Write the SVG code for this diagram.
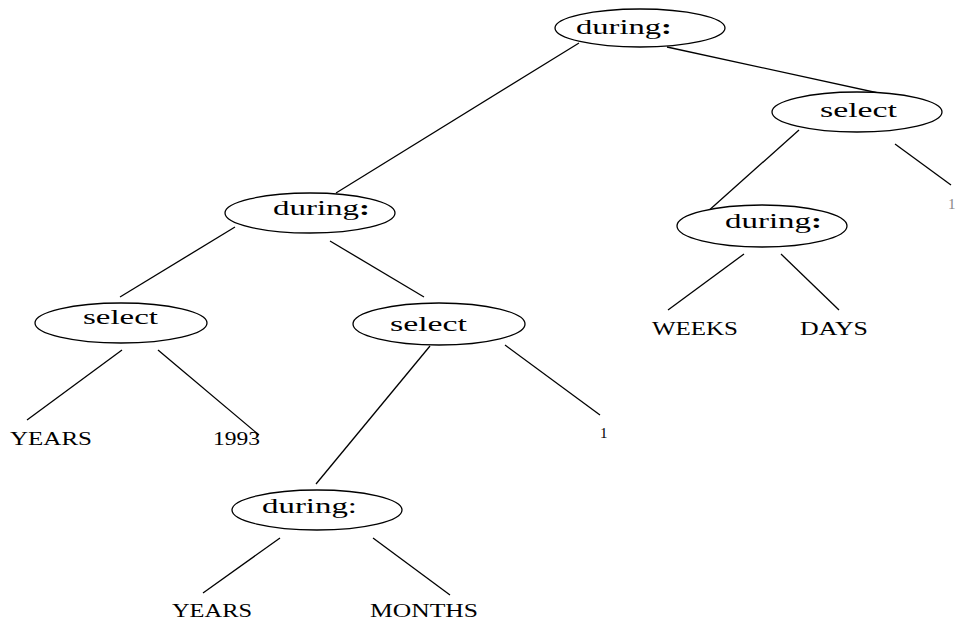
<svg xmlns="http://www.w3.org/2000/svg" width="957" height="628" viewBox="0 0 957 628">
  <style>
    .node ellipse { fill: #ffffff; stroke: #000000; stroke-width: 1.3; }
    .lbl { font-family: "Liberation Serif", "Times New Roman", serif; font-size: 21px; fill: #000000; }
    .leaf { font-family: "Liberation Serif", "Times New Roman", serif; font-size: 19px; fill: #000000; }
    .small { font-family: "Liberation Serif", "Times New Roman", serif; font-size: 15px; fill: #000000; }
    .edges line { stroke: #000000; stroke-width: 1.3; }
    .b { font-weight: bold; }
  </style>
  <rect width="957" height="628" fill="#ffffff"/>

  <!-- tree edges -->
  <g id="edges" class="edges">
    <line x1="579" y1="43" x2="336" y2="193"/>
    <line x1="667" y1="47" x2="915" y2="101"/>
    <line x1="799" y1="130" x2="706" y2="213"/>
    <line x1="895" y1="144" x2="951" y2="185"/>
    <line x1="744" y1="254" x2="668" y2="310"/>
    <line x1="781" y1="254" x2="839" y2="310"/>
    <line x1="235" y1="227" x2="120" y2="297"/>
    <line x1="330" y1="241" x2="424" y2="297"/>
    <line x1="122" y1="350" x2="27" y2="420"/>
    <line x1="158" y1="350" x2="259" y2="435"/>
    <line x1="430" y1="346" x2="316" y2="484"/>
    <line x1="505" y1="345" x2="600" y2="415"/>
    <line x1="280" y1="538" x2="203" y2="593"/>
    <line x1="373" y1="538" x2="450" y2="595"/>
  </g>

  <!-- operator nodes -->
  <g id="n-during-root" class="node">
    <ellipse cx="640" cy="28" rx="85" ry="19"/>
    <text class="lbl" x="576" y="34" textLength="96" lengthAdjust="spacingAndGlyphs">during<tspan class="b">:</tspan></text>
  </g>
  <g id="n-select-right" class="node">
    <ellipse cx="857" cy="112" rx="85" ry="20"/>
    <text class="lbl" x="820" y="117" textLength="77" lengthAdjust="spacingAndGlyphs">select</text>
  </g>
  <g id="n-during-left" class="node">
    <ellipse cx="310" cy="213" rx="85" ry="20"/>
    <text class="lbl" x="273" y="215" textLength="97" lengthAdjust="spacingAndGlyphs">during<tspan class="b">:</tspan></text>
  </g>
  <g id="n-during-right" class="node">
    <ellipse cx="762" cy="226" rx="85" ry="21"/>
    <text class="lbl" x="725" y="228" textLength="97" lengthAdjust="spacingAndGlyphs">during<tspan class="b">:</tspan></text>
  </g>
  <g id="n-select-left" class="node">
    <ellipse cx="121" cy="323" rx="86" ry="20"/>
    <text class="lbl" x="83" y="324" textLength="75" lengthAdjust="spacingAndGlyphs">select</text>
  </g>
  <g id="n-select-mid" class="node">
    <ellipse cx="439" cy="324" rx="86" ry="21"/>
    <text class="lbl" x="390" y="331" textLength="77" lengthAdjust="spacingAndGlyphs">select</text>
  </g>
  <g id="n-during-bottom" class="node">
    <ellipse cx="317" cy="510" rx="85" ry="20"/>
    <text class="lbl" x="262" y="513" textLength="95" lengthAdjust="spacingAndGlyphs">during:</text>
  </g>

  <!-- leaf labels -->
  <g id="l-years-1"><text class="leaf" x="10" y="445" textLength="82" lengthAdjust="spacingAndGlyphs">YEARS</text></g>
  <g id="l-1993"><text class="leaf" x="213" y="445" textLength="47" lengthAdjust="spacingAndGlyphs">1993</text></g>
  <g id="l-one-mid"><text class="small" x="600" y="438">1</text></g>
  <g id="l-one-right"><text class="small" x="948" y="209" style="fill:#888888">1</text></g>
  <g id="l-weeks"><text class="leaf" x="652" y="335" textLength="86" lengthAdjust="spacingAndGlyphs">WEEKS</text></g>
  <g id="l-days"><text class="leaf" x="800" y="335" textLength="68" lengthAdjust="spacingAndGlyphs">DAYS</text></g>
  <g id="l-years-2"><text class="leaf" x="172" y="617" textLength="80" lengthAdjust="spacingAndGlyphs">YEARS</text></g>
  <g id="l-months"><text class="leaf" x="370" y="617" textLength="108" lengthAdjust="spacingAndGlyphs">MONTHS</text></g>
</svg>
